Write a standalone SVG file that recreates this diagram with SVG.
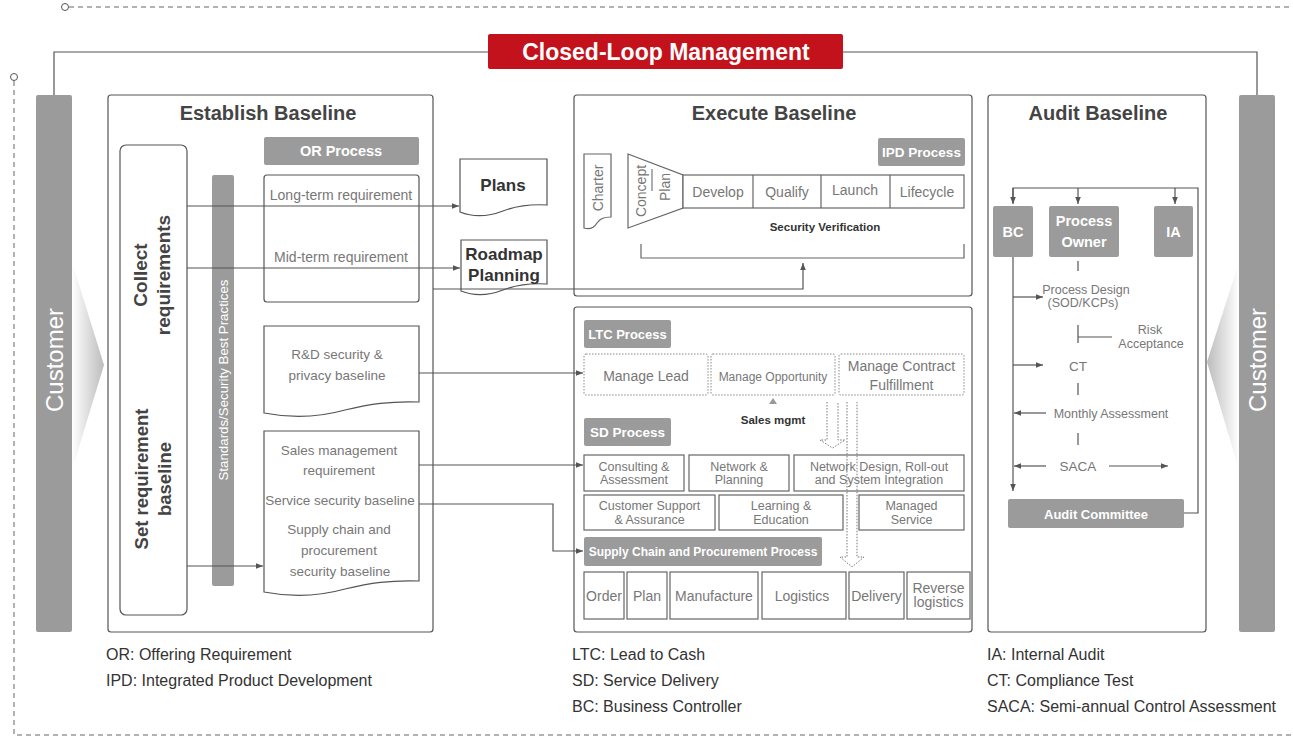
<svg xmlns="http://www.w3.org/2000/svg" width="1293" height="737" viewBox="0 0 1293 737">
  <defs>
    <style>
      text { font-family: "Liberation Sans", Arial, sans-serif; }
      .box { fill: #fff; stroke: #555; stroke-width: 1.2; }
      .sbox { fill: #fff; stroke: #666; stroke-width: 1.2; }
      .dot { fill: #fff; stroke: #888; stroke-width: 1; stroke-dasharray: 1.5 1.5; }
      .gbox { fill: #9b9b9b; }
      .ln { fill: none; stroke: #555; stroke-width: 1.2; }
      .dash { fill: none; stroke: #666; stroke-width: 1; stroke-dasharray: 5 4; }
      .ttl { fill: #444; font-weight: bold; font-size: 20px; text-anchor: middle; }
      .w { fill: #fff; font-weight: bold; text-anchor: middle; dominant-baseline: central; }
      .g { fill: #777; text-anchor: middle; dominant-baseline: central; }
      .dk { fill: #333; font-weight: bold; text-anchor: middle; dominant-baseline: central; }
      .lg { fill: #333; font-size: 16px; }
      .hollow { fill: none; stroke: #777; stroke-width: 1; stroke-dasharray: 1.5 1.5; }
    </style>
    <marker id="ah" viewBox="0 0 10 10" refX="10" refY="5" markerWidth="7" markerHeight="7" markerUnits="userSpaceOnUse" orient="auto">
      <path d="M0,1 L10,5 L0,9 z" fill="#555"/>
    </marker>
    <linearGradient id="wedgeL" x1="0" y1="0" x2="1" y2="0">
      <stop offset="0" stop-color="#ffffff"/>
      <stop offset="1" stop-color="#bcbcbc"/>
    </linearGradient>
    <linearGradient id="wedgeR" x1="0" y1="0" x2="1" y2="0">
      <stop offset="0" stop-color="#bcbcbc"/>
      <stop offset="1" stop-color="#ffffff"/>
    </linearGradient>
  </defs>

  <!-- outer dashed frame -->
  <g id="frame">
    <path class="dash" d="M69,7 H1293"/>
    <circle cx="65" cy="7" r="3.5" fill="#fff" stroke="#555" stroke-width="1"/>
    <path class="dash" d="M14,81 V735 H1293"/>
    <circle cx="14" cy="77" r="3.5" fill="#fff" stroke="#555" stroke-width="1"/>
  </g>

  <!-- closed loop header -->
  <g id="closed-loop">
    <path class="ln" d="M54,95 V52 H488 M843,52 H1257 V95"/>
    <rect x="488" y="34" width="355" height="35" rx="2" fill="#c3121c"/>
    <text x="666" y="51.5" class="w" font-size="23">Closed-Loop Management</text>
  </g>

  <!-- customer bars -->
  <g id="customer-left">
    <polygon points="72,262 104,365 72,470" fill="url(#wedgeL)"/>
    <rect x="36" y="95" width="36" height="537" rx="2" class="gbox"/>
    <text transform="translate(54,360) rotate(-90)" class="g" style="fill:#fff" font-size="24">Customer</text>
  </g>
  <g id="customer-right">
    <polygon points="1239,262 1207,362 1239,470" fill="url(#wedgeR)"/>
    <rect x="1239" y="95" width="36" height="537" rx="2" class="gbox"/>
    <text transform="translate(1257,360) rotate(-90)" class="g" style="fill:#fff" font-size="24">Customer</text>
  </g>

  <!-- Establish Baseline -->
  <g id="establish">
    <rect x="108" y="95" width="325" height="537" rx="3" class="box"/>
    <text x="268" y="120" class="ttl">Establish Baseline</text>
  </g>
  <g id="req-column">
    <rect x="120" y="145" width="67" height="470" rx="6" class="box"/>
    <text transform="translate(140,275) rotate(-90)" class="dk" style="fill:#444" font-size="19">Collect</text>
    <text transform="translate(163,275) rotate(-90)" class="dk" style="fill:#444" font-size="19">requirements</text>
    <text transform="translate(141,479) rotate(-90)" class="dk" style="fill:#444" font-size="18.5">Set requirement</text>
    <text transform="translate(164,479) rotate(-90)" class="dk" style="fill:#444" font-size="18.5">baseline</text>
  </g>
  <g id="standards">
    <rect x="212" y="175" width="22" height="411" rx="2" class="gbox"/>
    <text transform="translate(223,380) rotate(-90)" class="g" style="fill:#fff" font-size="13.3">Standards/Security Best Practices</text>
  </g>
  <g id="or-process">
    <rect x="264" y="137" width="155" height="28" rx="2" class="gbox"/>
    <text x="341" y="151" class="w" font-size="14.5">OR Process</text>
    <rect x="264" y="175" width="155" height="127" rx="3" class="box"/>
    <text x="341" y="195" class="g" font-size="14">Long-term requirement</text>
    <text x="341" y="257" class="g" font-size="14">Mid-term requirement</text>
  </g>
  <g id="rd-baseline">
    <path class="box" d="M264,326 H419 V402 C390,401 370,404 345,410 C320,417 295,419 264,413 Z"/>
    <text x="337" y="354" class="g" font-size="13.5">R&amp;D security &amp;</text>
    <text x="337" y="375" class="g" font-size="13.5">privacy baseline</text>
  </g>
  <g id="sales-baseline">
    <path class="box" d="M264,431 H419 V581 C390,580 370,583 345,589 C320,596 295,598 264,592 Z"/>
    <text x="339" y="450" class="g" font-size="13.5">Sales management</text>
    <text x="339" y="470" class="g" font-size="13.5">requirement</text>
    <text x="340" y="500" class="g" font-size="13.5">Service security baseline</text>
    <text x="339" y="529" class="g" font-size="13.5">Supply chain and</text>
    <text x="339" y="550" class="g" font-size="13.5">procurement</text>
    <text x="340" y="571" class="g" font-size="13.5">security baseline</text>
  </g>
  <g id="plans">
    <path class="box" d="M460,159 H547 V205 C530,204 516,206 503,211 C490,216 475,218 460,212 Z"/>
    <text x="503" y="185" class="dk" font-size="17">Plans</text>
  </g>
  <g id="roadmap">
    <path class="box" d="M461,240 H547 V284 C530,283 516,285 503,290 C490,295 476,297 461,291 Z"/>
    <text x="504" y="254" class="dk" font-size="17">Roadmap</text>
    <text x="504" y="275" class="dk" font-size="17">Planning</text>
  </g>

  <!-- Execute Baseline: IPD -->
  <g id="execute">
    <rect x="574" y="95" width="398" height="201" rx="3" class="box"/>
    <text x="774" y="120" class="ttl">Execute Baseline</text>
  </g>
  <g id="ipd">
    <rect x="878" y="138" width="87" height="28" rx="2" class="gbox"/>
    <text x="921.5" y="152" class="w" font-size="13.5">IPD Process</text>
    <path class="sbox" d="M584,154 H611 V217 C603,217 600,219 597,223 C594,228 590,230 584,228 Z"/>
    <text transform="translate(598,188) rotate(-90)" class="g" font-size="14">Charter</text>
    <polygon class="sbox" points="628,154 683,175 683,208 628,228"/>
    <text transform="translate(641,191) rotate(-90)" class="g" font-size="14">Concept</text>
    <path class="ln" d="M652,169 V191" style="stroke:#777"/>
    <text transform="translate(665,187) rotate(-90)" class="g" font-size="14">Plan</text>
    <rect x="683" y="175" width="281" height="33" class="sbox"/>
    <path class="ln" d="M753,175 V208 M821,175 V208 M890,175 V208" style="stroke:#666"/>
    <text x="718" y="192" class="g" font-size="14">Develop</text>
    <text x="787" y="192" class="g" font-size="14">Qualify</text>
    <text x="855" y="190" class="g" font-size="14">Launch</text>
    <text x="927" y="192" class="g" font-size="14">Lifecycle</text>
    <text x="825" y="227" class="dk" font-size="11.5">Security Verification</text>
    <path class="ln" d="M641,244 V258 H964 V244" style="stroke:#666"/>
  </g>

  <!-- Execute Baseline: LTC / SD / Supply chain -->
  <g id="delivery">
    <rect x="574" y="307" width="398" height="325" rx="3" class="box"/>
  </g>
  <g id="ltc">
    <rect x="584" y="320" width="87" height="28" rx="2" class="gbox"/>
    <text x="627.5" y="334" class="w" font-size="13">LTC Process</text>
    <rect x="584" y="354" width="124" height="41" rx="2" class="dot"/>
    <rect x="711" y="354" width="124" height="41" rx="2" class="dot"/>
    <rect x="839" y="354" width="125" height="41" rx="2" class="dot"/>
    <text x="646" y="376" class="g" font-size="14">Manage Lead</text>
    <text x="773" y="377" class="g" font-size="12">Manage Opportunity</text>
    <text x="901.5" y="366" class="g" font-size="14">Manage Contract</text>
    <text x="901.5" y="385" class="g" font-size="14">Fulfillment</text>
    <polygon points="773,398 769,404 777,404" fill="#999"/>
    <text x="773" y="420" class="dk" font-size="11.5">Sales mgmt</text>
  </g>
  <g id="sd">
    <rect x="584" y="418" width="87" height="28" rx="2" class="gbox"/>
    <text x="627.5" y="432" class="w" font-size="13.5">SD Process</text>
    <rect x="584" y="455" width="100" height="36" class="sbox"/>
    <rect x="689" y="455" width="100" height="36" class="sbox"/>
    <rect x="794" y="455" width="170" height="36" class="sbox"/>
    <rect x="584" y="495" width="131" height="35" class="sbox"/>
    <rect x="719" y="495" width="124" height="35" class="sbox"/>
    <rect x="859" y="495" width="105" height="35" class="sbox"/>
    <text x="634" y="466.5" class="g" font-size="12.5">Consulting &amp;</text>
    <text x="634" y="480" class="g" font-size="12.5">Assessment</text>
    <text x="739" y="466.5" class="g" font-size="12.5">Network &amp;</text>
    <text x="739" y="480" class="g" font-size="12.5">Planning</text>
    <text x="879" y="466.5" class="g" font-size="12.5">Network Design, Roll-out</text>
    <text x="879" y="480" class="g" font-size="12.5">and System Integration</text>
    <text x="649.5" y="506" class="g" font-size="12.5">Customer Support</text>
    <text x="649.5" y="519.5" class="g" font-size="12.5">&amp; Assurance</text>
    <text x="781" y="506" class="g" font-size="12.5">Learning &amp;</text>
    <text x="781" y="519.5" class="g" font-size="12.5">Education</text>
    <text x="911.5" y="506" class="g" font-size="12.5">Managed</text>
    <text x="911.5" y="519.5" class="g" font-size="12.5">Service</text>
  </g>
  <g id="supply-chain">
    <rect x="584" y="537" width="238" height="29" rx="2" class="gbox"/>
    <text x="703" y="551.5" class="w" font-size="12">Supply Chain and Procurement Process</text>
    <rect x="584" y="572" width="40" height="47" class="sbox"/>
    <rect x="627" y="572" width="40" height="47" class="sbox"/>
    <rect x="670" y="572" width="88" height="47" class="sbox"/>
    <rect x="762" y="572" width="84" height="47" class="sbox"/>
    <rect x="849" y="572" width="55" height="47" class="sbox"/>
    <rect x="907" y="572" width="63" height="47" class="sbox"/>
    <text x="604" y="596" class="g" font-size="14">Order</text>
    <text x="647" y="596" class="g" font-size="14">Plan</text>
    <text x="714" y="596" class="g" font-size="14">Manufacture</text>
    <text x="802" y="596" class="g" font-size="14">Logistics</text>
    <text x="876.5" y="596" class="g" font-size="14">Delivery</text>
    <text x="938.5" y="588" class="g" font-size="14">Reverse</text>
    <text x="938.5" y="602" class="g" font-size="14">logistics</text>
  </g>
  <g id="flow-arrows">
    <path class="hollow" d="M827,402 V440 H820 L832.5,448 L845,440 H838 V402"/>
    <path class="hollow" d="M847,402 V557 H840 L852,567 L864,557 H857 V402"/>
  </g>

  <!-- Audit Baseline -->
  <g id="audit">
    <rect x="988" y="95" width="218" height="537" rx="3" class="box"/>
    <text x="1098" y="120" class="ttl">Audit Baseline</text>
  </g>
  <g id="bc">
    <rect x="993" y="206" width="40" height="51" rx="2" class="gbox"/>
    <text x="1013" y="231.5" class="w" font-size="14.5">BC</text>
  </g>
  <g id="process-owner">
    <rect x="1049" y="206" width="70" height="51" rx="2" class="gbox"/>
    <text x="1084" y="221" class="w" font-size="14.5">Process</text>
    <text x="1084" y="242" class="w" font-size="14.5">Owner</text>
  </g>
  <g id="ia">
    <rect x="1154" y="206" width="39" height="51" rx="2" class="gbox"/>
    <text x="1173.5" y="231.5" class="w" font-size="14.5">IA</text>
  </g>
  <g id="audit-committee">
    <rect x="1008" y="499" width="176" height="29" rx="2" class="gbox"/>
    <text x="1096" y="514" class="w" font-size="13">Audit Committee</text>
  </g>
  <g id="audit-steps">
    <text x="1086" y="290" class="g" font-size="12.5">Process Design</text>
    <text x="1083" y="303" class="g" font-size="12.5">(SOD/KCPs)</text>
    <text x="1150" y="330" class="g" font-size="12.5">Risk</text>
    <text x="1151" y="344" class="g" font-size="12.5">Acceptance</text>
    <text x="1078" y="366" class="g" font-size="13.5">CT</text>
    <text x="1111" y="414" class="g" font-size="12.5">Monthly Assessment</text>
    <text x="1078" y="466" class="g" font-size="13.5">SACA</text>
  </g>

  <!-- connectors -->
  <g id="connectors">
    <path class="ln" d="M187,206 H459" marker-end="url(#ah)"/>
    <path class="ln" d="M187,268 H460" marker-end="url(#ah)"/>
    <path class="ln" d="M433,289 H803 V263" marker-end="url(#ah)"/>
    <path class="ln" d="M187,566 H263" marker-end="url(#ah)"/>
    <path class="ln" d="M419,373 H583" marker-end="url(#ah)"/>
    <path class="ln" d="M419,465 H583" marker-end="url(#ah)"/>
    <path class="ln" d="M419,504 H553 V551 H583" marker-end="url(#ah)"/>

    <path class="ln" d="M1013,203 V188 H1198 V513 H1184"/>
    <path class="ln" d="M1013,188 V204" marker-end="url(#ah)"/>
    <path class="ln" d="M1078,188 V204" marker-end="url(#ah)"/>
    <path class="ln" d="M1175,188 V204" marker-end="url(#ah)"/>
    <path class="ln" d="M1013,257 V491" marker-end="url(#ah)"/>
    <path class="ln" d="M1078,261 V271 M1078,325 V343 M1078,337 H1112 M1078,383 V395 M1078,433 V445"/>
    <path class="ln" d="M1013,297 H1043" marker-end="url(#ah)"/>
    <path class="ln" d="M1013,365 H1043" marker-end="url(#ah)"/>
    <path class="ln" d="M1046,413 H1014" marker-end="url(#ah)"/>
    <path class="ln" d="M1046,466 H1014" marker-end="url(#ah)"/>
    <path class="ln" d="M1109,466 H1168" marker-end="url(#ah)"/>
  </g>

  <!-- abbreviations -->
  <g id="legend">
    <text x="106" y="660" class="lg">OR: Offering Requirement</text>
    <text x="106" y="686" class="lg">IPD: Integrated Product Development</text>
    <text x="572" y="660" class="lg">LTC: Lead to Cash</text>
    <text x="572" y="686" class="lg">SD: Service Delivery</text>
    <text x="572" y="712" class="lg">BC: Business Controller</text>
    <text x="987" y="660" class="lg">IA: Internal Audit</text>
    <text x="987" y="686" class="lg">CT: Compliance Test</text>
    <text x="987" y="712" class="lg">SACA: Semi-annual Control Assessment</text>
  </g>
</svg>
